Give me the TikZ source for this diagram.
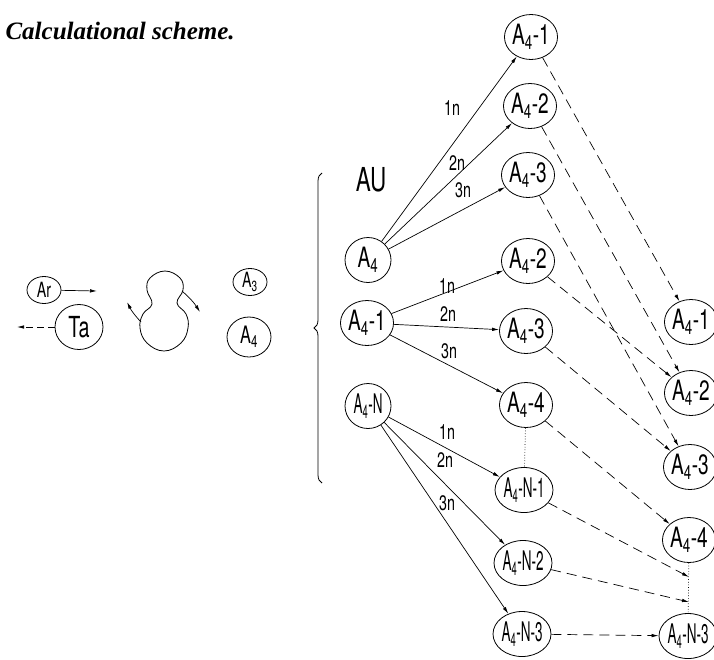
\documentclass[tikz,border=0pt]{standalone}
\usepackage{fontspec}
\usepackage{tikz}
\usetikzlibrary{positioning, arrows.meta, shapes.geometric, decorations.pathreplacing}
\newfontfamily\draftfont[FakeStretch=0.68]{TeX Gyre Heros}
\newfontfamily\narrowfont[FakeStretch=0.5]{TeX Gyre Heros}
\newfontfamily\titlefont{Liberation Serif}
\newcommand{\Asub}[2]{A\textsubscript{#1}#2}

\begin{document}
\begin{tikzpicture}[
        x=1pt, y=-1pt,
        font=\draftfont\fontsize{28}{30}\selectfont,
        atom/.style={ellipse, draw, line width=0.8pt, minimum width=46pt,
            minimum height=45pt, inner sep=0pt},
        small/.style={atom, minimum width=34pt, minimum height=27pt,
            font=\draftfont\fontsize{21}{23}\selectfont},
        nlbl/.style={font=\narrowfont\fontsize{27}{29}\selectfont},
        lbl/.style={font=\draftfont\fontsize{21}{23}\selectfont},
        arr/.style={-{Latex[length=7pt, width=3.5pt]}, line width=0.7pt},
        dasharr/.style={arr, dash pattern=on 10pt off 6pt},
        dotline/.style={line width=0.7pt, dotted}
    ]
    \useasboundingbox (0,0) rectangle (714,659);
    \node[font=\titlefont\bfseries\itshape\fontsize{25}{27}\selectfont, anchor=base west]
        (title) at (2,39) {Calculational scheme.};

    % colliding pair and complex
    \node[small] (ar) at (44,290) {Ar};
    \node[atom, minimum width=48pt, minimum height=45pt,
        font=\draftfont\fontsize{29}{31}\selectfont] (ta) at (79,327) {Ta};
    \coordinate (arout) at (97,291);
    \coordinate (tain) at (17,327);
    \draw[arr] (ar) -- (arout);
    \draw[arr, dash pattern=on 7pt off 4pt] (ta) -- (tain);
    \draw[line width=0.8pt] plot[smooth cycle, tension=0.7] coordinates {
        (165,271) (180,278) (183,290) (177,303) (186,314) (188,328) (181,343)
        (164,351) (147,343) (140,328) (143,314) (152,304) (147,290) (150,278)};
    \coordinate (rotA) at (141,322);
    \coordinate (rotB) at (127,302);
    \coordinate (rotC) at (182,291);
    \coordinate (rotD) at (200,312);
    \draw[arr] (rotA) to[bend left=8] (rotB);
    \draw[arr] (rotC) to[bend left=8] (rotD);
    \node[small] (a3) at (250,282) {\Asub{3}{}};
    \node[atom, minimum width=44pt, minimum height=40pt,
        font=\draftfont\fontsize{24}{26}\selectfont] (a4) at (249,337) {\Asub{4}{}};

    % brace and sources
    \coordinate (brtop) at (322,173);
    \coordinate (brbot) at (322,483);
    \draw[line width=0.8pt, decorate, decoration={brace, amplitude=8pt, mirror}] (brtop) -- (brbot);
    \node[font=\draftfont\fontsize{33}{35}\selectfont] (au) at (371,180) {AU};
    \node[atom] (s0) at (368,260) {\Asub{4}{}};
    \node[atom] (s1) at (367,323) {\Asub{4}{-1}};
    \node[atom, nlbl] (sN) at (368,406) {\Asub{4}{-N}};

    % products
    \node[atom] (p1) at (531,37) {\Asub{4}{-1}};
    \node[atom] (p2) at (530,106) {\Asub{4}{-2}};
    \node[atom] (p3) at (528,175) {\Asub{4}{-3}};
    \node[atom] (q2) at (528,261) {\Asub{4}{-2}};
    \node[atom] (q3) at (526,331) {\Asub{4}{-3}};
    \node[atom] (q4) at (526,405) {\Asub{4}{-4}};
    \node[atom, nlbl] (n1) at (524,490) {\Asub{4}{-N-1}};
    \node[atom, nlbl] (n2) at (523,563) {\Asub{4}{-N-2}};
    \node[atom, nlbl] (n3) at (522,634) {\Asub{4}{-N-3}};

    % final states
    \node[atom] (r1) at (691,322) {\Asub{4}{-1}};
    \node[atom] (r2) at (691,393) {\Asub{4}{-2}};
    \node[atom] (r3) at (690,467) {\Asub{4}{-3}};
    \node[atom] (r4) at (689,540) {\Asub{4}{-4}};
    \node[atom, nlbl] (rn) at (688,636) {\Asub{4}{-N-3}};
    \coordinate (d1) at (689,577);
    \coordinate (d2) at (689,602);

    % decay channels
    \foreach \src/\dst in {s0/p1, s0/p2, s0/p3, s1/q2, s1/q3, s1/q4, sN/n1, sN/n2, sN/n3}
        \draw[arr] (\src) -- (\dst);
    \foreach \src/\dst in {p1/r1, p2/r2, p3/r3, q2/r2, q3/r3, q4/r4, n1/d1, n2/d2, n3/rn}
        \draw[dasharr] (\src) -- (\dst);
    \draw[dotline] (q4) -- (n1);
    \draw[dotline] (r4) -- (rn);

    \node[lbl] (l1) at (452,108) {1n};
    \node[lbl] (l2) at (457,163) {2n};
    \node[lbl] (l3) at (463,190) {3n};
    \node[lbl] (m1) at (447,286) {1n};
    \node[lbl] (m2) at (448,314) {2n};
    \node[lbl] (m3) at (449,351) {3n};
    \node[lbl] (k1) at (447,432) {1n};
    \node[lbl] (k2) at (445,460) {2n};
    \node[lbl] (k3) at (447,503) {3n};
\end{tikzpicture}
\end{document}
